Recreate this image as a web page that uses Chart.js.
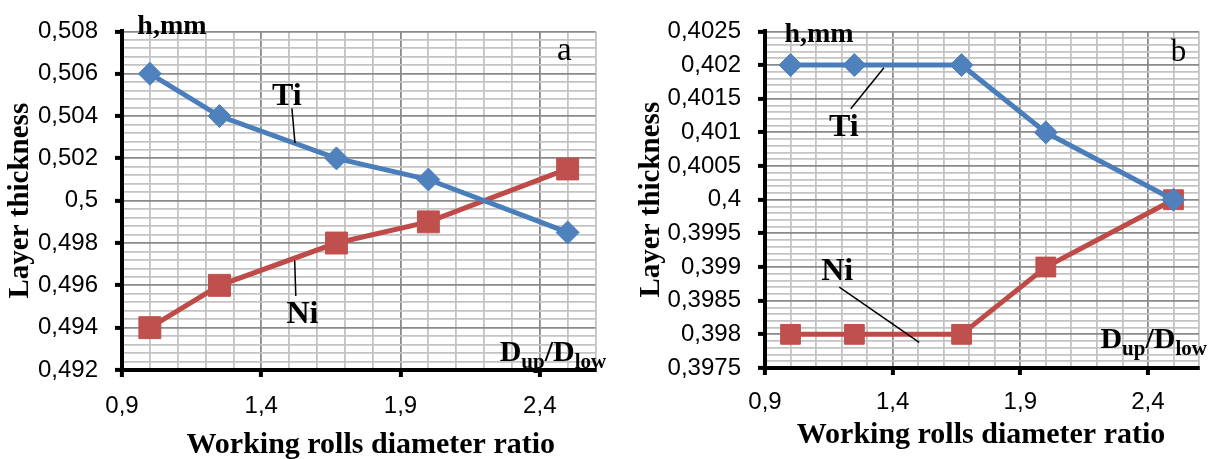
<!DOCTYPE html>
<html>
<head>
<meta charset="utf-8">
<script src="https://cdn.jsdelivr.net/npm/chart.js@4.4.1/dist/chart.umd.min.js"></script>
<style>
  html, body { margin: 0; padding: 0; background: #fff; }
  #wrap { position: relative; width: 1214px; height: 459px; }
  #chartA { position: absolute; left: 0; top: 0; }
  #chartB { position: absolute; left: 612px; top: 0; }
</style>
</head>
<body>
<div id="wrap">
  <canvas id="chartA" width="612" height="459"></canvas>
  <canvas id="chartB" width="602" height="459"></canvas>
</div>
<script>
// (a) layer thickness vs working rolls diameter ratio
const ratioA = [1.0, 1.25, 1.67, 2.0, 2.5];
const tiA = [0.506, 0.504, 0.502, 0.501, 0.4985];
const niA = [0.494, 0.496, 0.498, 0.499, 0.5015];

// (b)
const ratioB = [1.0, 1.25, 1.67, 2.0, 2.5];
const tiB = [0.402, 0.402, 0.402, 0.401, 0.400];
const niB = [0.398, 0.398, 0.398, 0.399, 0.400];

// axis ranges (major = labelled ticks, minor = grid lines)
const xAxis = { min: 0.9, max: 2.6, major: 0.5, minor: 0.1 };
const yAxisA = { min: 0.492, max: 0.508, major: 0.002, minor: 0.0004 };
const yAxisB = { min: 0.3975, max: 0.4025, major: 0.0005, minor: 0.0001 };

const TI_LINE = "#4a7ebb", TI_MARK = "#4f81bd";
const NI_LINE = "#be4b48", NI_MARK = "#c0504d";
const SERIF = "'Liberation Serif', 'Times New Roman', serif";
const SANS = "'Liberation Sans', Arial, sans-serif";

function gridTicks(ax) {
  const n = Math.round((ax.max - ax.min) / ax.minor);
  const out = [];
  for (let i = 0; i <= n; i++) out.push({ value: +(ax.min + i * ax.minor).toFixed(6) });
  return out;
}
function isMajor(ax, v) {
  const k = Math.round((v - ax.min) / ax.minor);
  return k % Math.round(ax.major / ax.minor) === 0;
}
function fmt(v) {
  return String(+v.toFixed(4)).replace(".", ",");
}
function pts(xs, ys) {
  return xs.map((x, i) => ({ x: x, y: ys[i] }));
}

function scaleOpts(ax, extra) {
  return Object.assign({
    type: "linear",
    min: ax.min,
    max: ax.max,
    afterBuildTicks: (s) => { s.ticks = gridTicks(ax); },
    border: { display: true, color: "#000", width: 4 },
    grid: {
      color: (c) => (c.tick && isMajor(ax, c.tick.value) ? "#8a8a8a" : "#c3c3c3"),
      lineWidth: 1.8,
      tickLength: 7,
      tickWidth: 4,
      tickColor: (c) => (c.tick && isMajor(ax, c.tick.value) ? "#000" : "rgba(0,0,0,0)"),
    },
  }, extra);
}

// text notes, leader lines, the D_up/D_low label and the x title
const notesPlugin = {
  id: "notes",
  afterDatasetsDraw(chart, args, o) {
    const { ctx, chartArea } = chart;
    const x = chart.scales.x, y = chart.scales.y;
    const px = (v) => x.getPixelForValue(v);
    const py = (v) => y.getPixelForValue(v);
    ctx.save();
    ctx.fillStyle = "#000";
    ctx.strokeStyle = "#000";
    ctx.lineWidth = 1.5;
    o.leaders.forEach((l) => {
      ctx.beginPath();
      ctx.moveTo(px(l[0]), py(l[1]));
      ctx.lineTo(px(l[2]), py(l[3]));
      ctx.stroke();
    });
    ctx.textBaseline = "alphabetic";
    o.labels.forEach((t) => {
      ctx.font = t.font;
      ctx.textAlign = t.align || "center";
      ctx.fillText(t.text, px(t.x), py(t.y));
    });
    // D_up / D_low
    let cx = px(o.ratio.x);
    const by = py(o.ratio.y);
    ctx.textAlign = "left";
    [["D", 0], ["up", 1], ["/", 0], ["D", 0], ["low", 1]].forEach((p) => {
      ctx.font = p[1] ? "bold 21px " + SERIF : "bold 30px " + SERIF;
      ctx.fillText(p[0], cx, by + (p[1] ? 7 : 0));
      cx += ctx.measureText(p[0]).width;
    });
    // x axis title
    ctx.font = "bold 30px " + SERIF;
    ctx.textAlign = "center";
    ctx.fillText("Working rolls diameter ratio",
      (chartArea.left + chartArea.right) / 2 + o.xTitle.dx, o.xTitle.y);
    ctx.restore();
  },
};

function makeChart(id, xs, ti, ni, yAx, cfg) {
  const ctx = document.getElementById(id).getContext("2d");
  return new Chart(ctx, {
    type: "line",
    data: {
      datasets: [
        {
          label: "Ti",
          data: pts(xs, ti),
          borderColor: TI_LINE,
          borderWidth: 5,
          pointStyle: "rectRot",
          pointRadius: 11.5,
          pointBackgroundColor: TI_MARK,
          pointBorderColor: TI_MARK,
          pointBorderWidth: 1,
          tension: 0,
        },
        {
          label: "Ni",
          data: pts(xs, ni),
          borderColor: NI_LINE,
          borderWidth: 5,
          pointStyle: "rect",
          pointRadius: cfg.sq,
          pointBackgroundColor: NI_MARK,
          pointBorderColor: NI_MARK,
          pointBorderWidth: 1,
          tension: 0,
        },
      ],
    },
    options: {
      responsive: false,
      animation: false,
      layout: { padding: { top: cfg.top, right: cfg.right, bottom: 0, left: 0 } },
      plugins: {
        legend: { display: false },
        tooltip: { enabled: false },
        notes: cfg.notes,
      },
      scales: {
        x: scaleOpts(xAxis, {
          afterFit: (s) => { s.height = cfg.xh; },
          ticks: {
            autoSkip: false,
            maxRotation: 0,
            padding: cfg.xpad,
            color: "#000",
            font: { family: SANS, size: 24 },
            callback: (v) => (isMajor(xAxis, v) ? fmt(v) : ""),
          },
        }),
        y: scaleOpts(yAx, {
          afterFit: (s) => { s.width = cfg.yw; },
          ticks: {
            autoSkip: false,
            padding: 17,
            color: "#000",
            font: { family: SANS, size: 24 },
            callback: (v) => (isMajor(yAx, v) ? fmt(v) : ""),
          },
          title: {
            display: true,
            text: "Layer thickness",
            color: "#000",
            font: { family: SERIF, size: 29, weight: "bold" },
            padding: { top: cfg.ytitle, bottom: 0 },
          },
        }),
      },
    },
    plugins: [notesPlugin],
  });
}

makeChart("chartA", ratioA, tiA, niA, yAxisA, {
  top: 25, right: 5, xh: 89, yw: 122, xpad: 15, ytitle: 3, sq: 15.5,
  notes: {
    labels: [
      { text: "h,mm", x: 0.955, y: 0.50788, font: "bold 28px " + SERIF, align: "left" },
      { text: "a", x: 2.488, y: 0.50663, font: "33px " + SERIF },
      { text: "Ti", x: 1.492, y: 0.50454, font: "bold 32px " + SERIF },
      { text: "Ni", x: 1.548, y: 0.4942, font: "bold 32px " + SERIF },
    ],
    leaders: [
      [1.51, 0.50436, 1.521, 0.50272],
      [1.52, 0.49717, 1.524, 0.4955],
    ],
    ratio: { x: 2.256, y: 0.49244 },
    xTitle: { dx: 12, y: 453 },
  },
});

makeChart("chartB", ratioB, tiB, niB, yAxisB, {
  top: 25, right: 4, xh: 91, yw: 153, xpad: 13, ytitle: 22, sq: 14,
  notes: {
    labels: [
      { text: "h,mm", x: 0.976, y: 0.40234, font: "bold 28px " + SERIF, align: "left" },
      { text: "b", x: 2.52, y: 0.40206, font: "31px " + SERIF },
      { text: "Ti", x: 1.209, y: 0.40095, font: "bold 32px " + SERIF },
      { text: "Ni", x: 1.183, y: 0.39881, font: "bold 32px " + SERIF },
    ],
    leaders: [
      [1.366, 0.40196, 1.236, 0.40135],
      [1.191, 0.3987, 1.504, 0.39788],
    ],
    ratio: { x: 2.214, y: 0.39779 },
    xTitle: { dx: -1, y: 443 },
  },
});
</script>
</body>
</html>
